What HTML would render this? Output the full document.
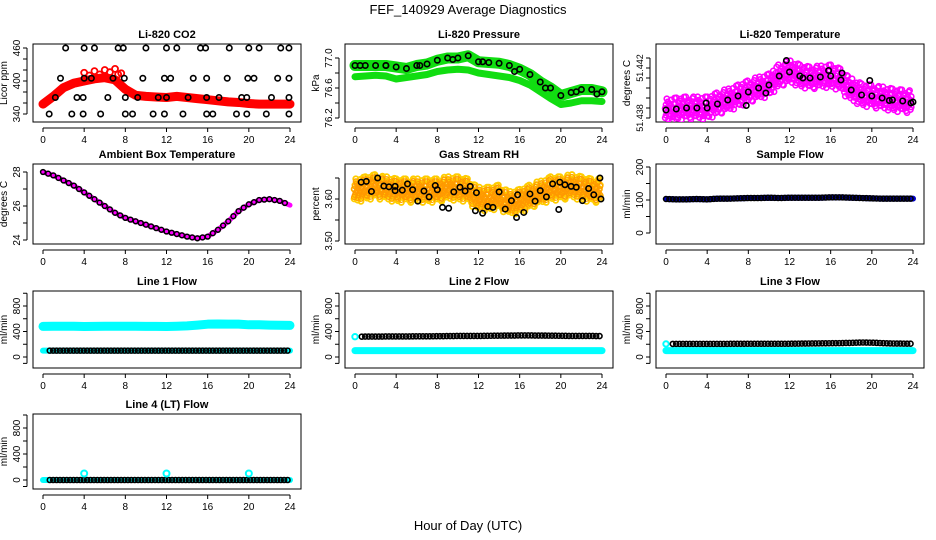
<!DOCTYPE html>
<html><head><meta charset="utf-8"><style>
html,body{margin:0;padding:0;background:#fff;}
svg{display:block;font-family:"Liberation Sans",sans-serif;}
</style></head><body>
<svg id="fig" width="936" height="540" viewBox="0 0 936 540">
<text x="468" y="14" text-anchor="middle" font-size="13">FEF_140929  Average Diagnostics</text>
<text x="468" y="530" text-anchor="middle" font-size="13">Hour of Day (UTC)</text>
</svg>
<script>
const HOURS=[0,1,2,3,4,5,6,7,8,9,10,11,12,13,14,15,16,17,18,19,20,21,22,23,24];
const XTICKS=[0,4,8,12,16,20,24];
// CO2
const co2Red=[358,372,388,396,400,404,406,402,385,374,372,371,370,372,370,368,366,364,362,361,359,358,358,358,358];
const co2RedHiX=[4,4.5,5,5.5,6,6.5,7,7.3,7.6];
const co2RedHiY=[415,410,418,412,420,416,422,412,414];
const co2B460=[2.2,4,5,7.3,7.8,10,12,13,15.3,15.8,18.1,20,21,23.1,23.9];
const co2B405=[1.7,4,4.7,6.8,7.9,9.7,11.8,12.4,14.6,15.9,17.9,19.9,20.5,22.8,23.9];
const co2B370=[1.2,3.3,3.9,6.3,8,9.2,11.2,12,14.1,15.9,17.1,19.3,19.8,22.2,23.9];
const co2B340=[0.6,2.8,3.9,5.6,8,8.7,10.7,11.8,13.6,15.9,16.5,18.8,19.8,21.7,23.9];
// Pressure
const presUpper=[76.9,76.9,76.9,76.9,76.88,76.86,76.9,76.92,76.97,77.0,77.0,77.03,76.95,76.94,76.93,76.9,76.85,76.78,76.68,76.6,76.5,76.54,76.58,76.58,76.55];
const presLower=[76.75,76.76,76.77,76.76,76.72,76.74,76.76,76.78,76.82,76.84,76.85,76.84,76.8,76.78,76.76,76.74,76.7,76.64,76.55,76.46,76.38,76.4,76.43,76.43,76.42];
// Li-820 temperature
const tempMean=[51.43864,51.43872,51.4388,51.4388,51.4388,51.43912,51.43944,51.43976,51.44008,51.4404,51.44064,51.44136,51.44168,51.44136,51.4412,51.44128,51.44136,51.44104,51.44024,51.43984,51.43976,51.4396,51.43944,51.43936,51.43928];
// Ambient box temperature
const ambX=[0,1,2,3,4,5,6,7,8,9,10,11,12,13,14,15,16,17,18,19,20,21,22,23,24];
const ambY=[28.0,27.8,27.5,27.2,26.8,26.4,26.0,25.6,25.3,25.1,24.9,24.7,24.5,24.35,24.2,24.1,24.2,24.6,25.1,25.7,26.1,26.35,26.4,26.3,26.05];
// RH
const rhMean=[3.62,3.625,3.63,3.625,3.62,3.62,3.62,3.62,3.62,3.625,3.625,3.62,3.60,3.60,3.605,3.59,3.595,3.605,3.615,3.625,3.625,3.63,3.625,3.62,3.62];
const rhBlackX=[0.6,1.1,1.6,2.2,2.8,3.3,3.9,3.9,4.6,5.1,5.6,6.1,6.7,7.2,7.8,8.0,8.5,9.1,9.6,10.2,10.7,11.2,11.7,11.8,12.4,12.9,13.4,14.0,14.6,15.2,15.7,15.8,16.4,17.0,17.5,18.0,18.6,19.2,19.8,19.9,20.4,21.0,21.5,22.1,22.7,23.2,23.8,23.9];
const rhBlackY=[3.640,3.642,3.618,3.650,3.631,3.629,3.620,3.630,3.621,3.636,3.622,3.595,3.619,3.605,3.632,3.622,3.580,3.578,3.617,3.628,3.619,3.630,3.572,3.615,3.566,3.582,3.580,3.617,3.576,3.596,3.556,3.610,3.568,3.612,3.595,3.620,3.605,3.636,3.575,3.640,3.634,3.630,3.628,3.596,3.625,3.610,3.650,3.600];
// Flows
const sampleFlow=[103,102,102,103,102,104,104,105,106,106,107,106,107,107,107,107,108,108,107,106,105,104,104,104,104];
const line1Cyan=[480,482,482,482,478,480,482,482,482,482,480,480,478,482,488,500,515,518,516,515,505,505,500,498,496];
const line1Black=[100,100,100,100,100,100,100,100,100,100,100,100,100,100,100,100,100,100,100,100,100,100,100,100,100];
const line2Black=[318,320,320,322,322,322,325,325,326,328,330,330,330,333,335,336,338,338,336,335,333,330,330,330,328];
const line2Cyan=[100,100,100,100,100,100,100,100,100,100,100,100,100,100,100,100,100,100,100,100,100,100,100,100,100];
const line3Black=[205,206,206,206,206,206,206,207,208,208,208,208,208,210,212,214,216,218,222,228,225,218,212,210,208];
const line3Cyan=[100,100,100,100,100,100,100,100,100,100,100,100,100,100,100,100,100,100,100,100,100,100,100,100,100];
const line4Black=[0,0,0,0,0,0,0,0,0,0,0,0,0,0,0,0,0,0,0,0,0,0,0,0,0];
const line4SpikeX=[4,12,20];
const line4SpikeY=[100,100,100];

const NS="http://www.w3.org/2000/svg";
const svg=document.getElementById('fig');
const COLS=[[33,301],[345,613],[656,924]];
const ROWS=[[44,122],[164,244],[291,368],[414,489]];
function mk(tag,attrs,parent){const e=document.createElementNS(NS,tag);for(const k in attrs)e.setAttribute(k,attrs[k]);(parent||svg).appendChild(e);return e;}
function panel(col,row,title,ylab,v0,y0,v1,y1,yticks,ylabels,name,lfs){
  const [L,R]=COLS[col],[T,B]=ROWS[row];
  const g=mk('g',{});
  
  
  const xs=h=>L+10+h*(R-L-21)/24;
  const ys=v=>y0+(v-v0)*(y1-y0)/(v1-v0);
  const box=mk('rect',{x:L,y:T,width:R-L,height:B-T,fill:'none',stroke:'#000','stroke-width':1},g);
  
  
  const t=mk('text',{x:(L+R)/2,y:T-6,'text-anchor':'middle','font-size':11,'font-weight':'bold'},g);
  t.textContent=title;
  
  
  mk('line',{x1:xs(0),x2:xs(24),y1:B+6,y2:B+6,stroke:'#000'},g);
  XTICKS.forEach(h=>{mk('line',{x1:xs(h),x2:xs(h),y1:B+6,y2:B+10,stroke:'#000'},g);
    const tl=mk('text',{x:xs(h),y:B+21,'text-anchor':'middle','font-size':10},g);tl.textContent=h;
    
    });
  const yt=yticks.map(ys);
  mk('line',{x1:L-6,x2:L-6,y1:Math.min(...yt),y2:Math.max(...yt),stroke:'#000'},g);
  yticks.forEach(v=>mk('line',{x1:L-10,x2:L-6,y1:ys(v),y2:ys(v),stroke:'#000'},g));
  ylabels.forEach(([v,s])=>{const tl=mk('text',{x:0,y:0,'text-anchor':'middle','font-size':lfs||10,transform:`translate(${L-13},${ys(v)}) rotate(-90)`},g);tl.textContent=s;
    
    });
  const yl=mk('text',{x:0,y:0,'text-anchor':'middle','font-size':10,transform:`translate(${L-26},${(T+B)/2}) rotate(-90)`},g);
  yl.textContent=ylab;
  
  
  const clip='c'+col+row;
  const cp=mk('clipPath',{id:clip},g);mk('rect',{x:L,y:T,width:R-L,height:B-T},cp);
  const pg=mk('g',{'clip-path':`url(#${clip})`},g);
  return {xs,ys,g:pg};
}
function pts(P,xsArr,ysArr,color,r,sw,nm){xsArr.forEach((h,i)=>{const c=mk('circle',{cx:P.xs(h),cy:P.ys(ysArr[i]),r:r||2.7,fill:'none',stroke:color,'stroke-width':sw||1.6},P.g);
  
  });}
function band(P,vals,color,w,nm){const d=HOURS.map((h,i)=>P.xs(h)+','+P.ys(vals[i])).join(' ');
  const pl=mk('polyline',{points:d,fill:'none',stroke:color,'stroke-width':w,'stroke-linejoin':'round','stroke-linecap':'round'},P.g);
  
  }
function dense(P,vals,spread,color,nm,sw){const offs=[-1,-0.55,-0.2,0.2,0.55,1];
  HOURS.forEach((h,i)=>{if(i===24)return;[0,0.25,0.5,0.75].forEach((f,j)=>{const v=vals[i]+(vals[i+1]-vals[i])*f;
    offs.forEach((o,k)=>{const oo=offs[(k+j*2+i)%6];const c=mk('circle',{cx:P.xs(h+f+((k%3)-1)*0.08),cy:P.ys(v+oo*spread*(0.7+0.3*((i+k)%3)/2)),r:2.6,fill:'none',stroke:color,'stroke-width':sw||1.8},P.g);
      
      });});});}

// Panel 1 CO2
let P=panel(0,0,'Li-820 CO2','Licor ppm',340,114,460,48,[340,360,380,400,420,440,460],[[340,'340'],[400,'400'],[460,'460']],'co2');
band(P,co2Red,'#f00',9,'co2-red-band');
pts(P,co2RedHiX,co2RedHiY,'#f00',3,1.8,'co2-red-point');
pts(P,co2B460,co2B460.map(()=>460),'#000');
pts(P,co2B405,co2B405.map(()=>405),'#000');
pts(P,co2B370,co2B370.map(()=>370),'#000');
pts(P,co2B340,co2B340.map(()=>340),'#000');

// Panel 2 Pressure
P=panel(1,0,'Li-820 Pressure','kPa',76.2,118,77.0,58,[76.2,76.4,76.6,76.8,77.0],[[76.2,'76.2'],[76.6,'76.6'],[77.0,'77.0']],'pressure');
band(P,presUpper,'#1d1',11,'pressure-upper-band');
band(P,presLower,'#1d1',7,'pressure-lower-band');
pts(P,HOURS,presUpper,'#000',2.7,1.6,'pressure-black-point');
pts(P,[0.5,3,6.3,9.5,12.4,15.5,18.5,21.5,23.5],[76.9,76.9,76.9,76.98,76.95,76.82,76.6,76.55,76.52],'#000');

// Panel 3 Temperature
P=panel(2,0,'Li-820 Temperature','degrees C',51.438,118,51.442,68,[51.438,51.4388,51.4396,51.4404,51.4412,51.442,51.4428],[[51.438,'51.438'],[51.442,'51.442']],'temperature',9);
dense(P,tempMean,0.0009,'#f0f','temperature-magenta-point',1.6);
pts(P,HOURS,tempMean,'#000',2.7,1.6,'temperature-black-point');
pts(P,[3.9,7.8,9.7,11.7,13.3,15.8,17.1,19.8,21.7,23.8],[51.4392,51.4390,51.4400,51.4426,51.4412,51.4418,51.4416,51.4410,51.4394,51.4392],'#000');

// Panel 4 Ambient
P=panel(0,1,'Ambient Box Temperature','degrees C',24,240,28,172,[24,25,26,27,28],[[24,'24'],[26,'26'],[28,'28']],'ambient');
band(P,ambY,'#f0f',5,'ambient-magenta-line');
const ambFine=[];const ambFineY=[];
ambX.forEach((h,i)=>{if(i<24){[0,0.5].forEach(f=>{ambFine.push(h+f);ambFineY.push(ambY[i]+(ambY[i+1]-ambY[i])*f);});}});
pts(P,ambFine,ambFineY,'#000',2.4,1.5,'ambient-black-point');

// Panel 5 RH
P=panel(1,1,'Gas Stream RH','percent',3.50,241,3.60,199,[3.50,3.55,3.60,3.65],[[3.50,'3.50'],[3.60,'3.60']],'rh');
dense(P,rhMean,0.028,'#fc0','rh-yellow-point',1.8);
dense(P,rhMean,0.022,'#f90','rh-orange-point',1);
pts(P,rhBlackX,rhBlackY,'#000',2.7,1.6,'rh-black-point');

// Panel 6 Sample flow
P=panel(2,1,'Sample Flow','ml/min',0,233,200,167,[0,50,100,150,200],[[0,'0'],[100,'100'],[200,'200']],'sample-flow');
band(P,sampleFlow,'#00c',6,'sample-flow-blue-band');
const fineX=[];for(let h=0;h<=24;h+=0.33)fineX.push(h);
const interp=a=>fineX.map(h=>{const i=Math.min(23,Math.floor(h));return a[i]+(a[i+1]-a[i])*(h-i);});
pts(P,fineX,interp(sampleFlow),'#000',2.5,1.5,'sample-flow-black-point');

const flowTicks=[-100,0,200,400,600,800,1000];
const flowLabels=[[0,'0'],[400,'400'],[800,'800']];
// Line 1
P=panel(0,2,'Line 1 Flow','ml/min',0,357,800,306,flowTicks,flowLabels,'line1-flow');
band(P,line1Cyan,'#0ff',9,'line1-cyan-band');
band(P,line1Black,'#0ff',6,'line1-cyan-low');
pts(P,fineX.filter(h=>h>0.4),interp(line1Black).slice(2),'#000',2.5,1.6,'line1-black-point');
// Line 2
P=panel(1,2,'Line 2 Flow','ml/min',0,357,800,306,flowTicks,flowLabels,'line2-flow');
band(P,line2Cyan,'#0ff',7,'line2-cyan-band');
pts(P,fineX.filter(h=>h>0.4),interp(line2Black).slice(2),'#000',2.5,1.6,'line2-black-point');
pts(P,[0],[line2Black[0]],'#0ff',2.7,2,'line2-cyan-point');
// Line 3
P=panel(2,2,'Line 3 Flow','ml/min',0,357,800,306,flowTicks,flowLabels,'line3-flow');
band(P,line3Cyan,'#0ff',7,'line3-cyan-band');
pts(P,fineX.filter(h=>h>0.4),interp(line3Black).slice(2),'#000',2.5,1.6,'line3-black-point');
pts(P,[0],[line3Black[0]],'#0ff',2.7,2,'line3-cyan-point');
// Line 4
P=panel(0,3,'Line 4 (LT) Flow','ml/min',0,480,800,428,flowTicks,flowLabels,'line4-flow');
band(P,line4Black,'#0ff',6,'line4-cyan-band');
pts(P,fineX.filter(h=>h>0.4),interp(line4Black).slice(2),'#000',2.5,1.6,'line4-black-point');
pts(P,line4SpikeX,line4SpikeY,'#0ff',3,2,'line4-cyan-spike');
</script>
</body></html>
